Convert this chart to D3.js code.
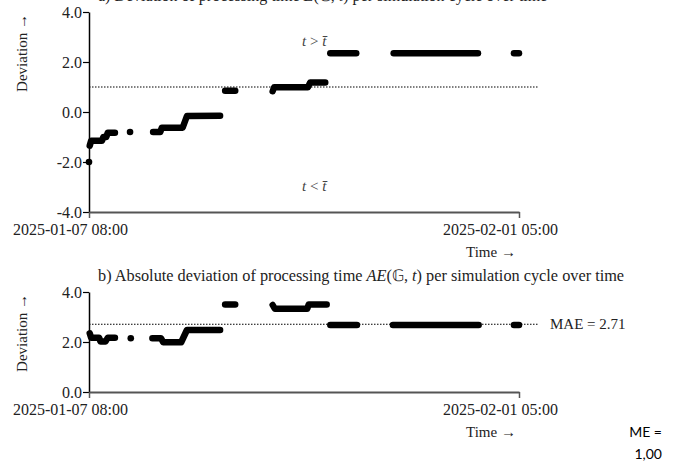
<!DOCTYPE html>
<html>
<head>
<meta charset="utf-8">
<script src="https://cdn.jsdelivr.net/npm/d3@7"></script>
<style>
    body { margin: 0; background: #fff; }
    svg text { font-family: "Liberation Serif", "Times New Roman", serif; }
    .tick text { font-size: 16px; fill: #222; }
    .note { font-size: 14px; font-family: Lato, "Open Sans", sans-serif !important; }
</style>
</head>
<body>
<div id="chart"></div>
<script>
const startTime = new Date(2025, 0, 7, 8, 0);
const endTime = new Date(2025, 1, 1, 5, 0);

// runs of [hours after start, deviation]
const signedRuns = [
    [[0, -2.0]],
    [[1, -1.35], [3, -1.15], [18, -1.15], [20, -1.0], [24, -1.0], [26, -0.83], [36, -0.83]],
    [[57, -0.8]],
    [[89, -0.8], [99, -0.8], [101, -0.63], [130, -0.63], [136, -0.16], [182, -0.15]],
    [[189, 0.85], [203, 0.85]],
    [[255, 0.83], [257, 0.99], [304, 0.99], [307, 1.18], [328, 1.18]],
    [[335, 2.35], [371, 2.35]],
    [[423, 2.35], [540, 2.35]],
    [[590, 2.35], [597, 2.35]]
];

const absRuns = [
    [[1, 2.35], [3, 2.17], [14, 2.17], [16, 2.02], [23, 2.02], [26, 2.17], [36, 2.17]],
    [[58, 2.15]],
    [[88, 2.15], [100, 2.15], [103, 1.99], [128, 1.99], [136, 2.48], [182, 2.48]],
    [[189, 3.5], [203, 3.5]],
    [[255, 3.48], [258, 3.33], [303, 3.33], [305, 3.5], [330, 3.5]],
    [[335, 2.68], [372, 2.68]],
    [[422, 2.68], [541, 2.68]],
    [[590, 2.68], [597, 2.68]]
];

const signedTicks = [-4, -2, 0, 2, 4];
const absTicks = [0, 2, 4];
const meanError = 1.0;
const meanAbsError = 2.71;

const width = 680;
const height = 466;

const svg = d3.select("#chart")
    .append("svg")
    .attr("width", width)
    .attr("height", height);

const x = d3.scaleTime()
    .domain([startTime, endTime])
    .range([89, 519]);

const toDate = (h) => d3.timeHour.offset(startTime, h);

function drawPanel(opts) {
    const y = d3.scaleLinear()
        .domain(opts.domain)
        .range([opts.bottom, opts.top]);

    const g = svg.append("g");

    // reference line (dotted)
    g.append("line")
        .attr("x1", x(startTime))
        .attr("x2", x(endTime) + 20)
        .attr("y1", y(opts.refValue))
        .attr("y2", y(opts.refValue))
        .attr("stroke", "#000")
        .attr("stroke-width", 1.2)
        .attr("stroke-dasharray", "1.5,1.5");

    // y axis
    const yAxis = g.append("g")
        .attr("transform", `translate(${x(startTime)},0)`)
        .call(d3.axisLeft(y).tickValues(opts.ticks)
            .tickFormat(d => d.toFixed(1))
            .tickSize(6).tickSizeOuter(0));
    yAxis.select(".domain").attr("stroke", "#000").attr("stroke-width", 1.5);
    yAxis.selectAll(".tick line").attr("stroke", "#000").attr("stroke-width", 1.2);
    yAxis.selectAll(".tick text").attr("x", -7).attr("font-size", 16);

    // x axis
    const xAxis = g.append("g")
        .attr("transform", `translate(0,${opts.bottom})`)
        .call(d3.axisBottom(x).tickValues([startTime, endTime])
            .tickFormat(d3.timeFormat("%Y-%m-%d %H:%M"))
            .tickSize(6).tickSizeOuter(0));
    xAxis.select(".domain").attr("stroke", "#555").attr("stroke-width", 2);
    xAxis.selectAll(".tick line").attr("stroke", "#555").attr("stroke-width", 1.5);
    xAxis.selectAll(".tick text")
        .attr("dx", -19)
        .attr("y", 12)
        .attr("font-size", 16);

    g.append("text")
        .attr("x", x(endTime) - 28)
        .attr("y", opts.bottom + 45)
        .attr("text-anchor", "middle")
        .attr("font-size", 15)
        .attr("fill", "#222")
        .text("Time →");

    g.append("text")
        .attr("transform", `translate(27,${opts.top + 2}) rotate(-90)`)
        .attr("text-anchor", "end")
        .attr("font-size", 15)
        .attr("fill", "#222")
        .text("Deviation →");

    // markers: dense runs drawn as thick lines, single points as dots
    const line = d3.line()
        .x(d => x(toDate(d[0])))
        .y(d => y(d[1]));

    g.selectAll("path.run")
        .data(opts.runs.filter(r => r.length > 1))
        .enter()
        .append("path")
        .attr("class", "run")
        .attr("d", line)
        .attr("fill", "none")
        .attr("stroke", "#000")
        .attr("stroke-width", 6.5)
        .attr("stroke-linecap", "round")
        .attr("stroke-linejoin", "round");

    g.selectAll("circle.single")
        .data(opts.runs.filter(r => r.length === 1))
        .enter()
        .append("circle")
        .attr("class", "single")
        .attr("cx", d => x(toDate(d[0][0])))
        .attr("cy", d => y(d[0][1]))
        .attr("r", 3.3)
        .attr("fill", "#000");

    return { g: g, y: y };
}

const panelA = drawPanel({
    runs: signedRuns, domain: [-4, 4], top: 12, bottom: 212,
    ticks: signedTicks, refValue: meanError
});

const panelB = drawPanel({
    runs: absRuns, domain: [0, 4], top: 292, bottom: 392,
    ticks: absTicks, refValue: meanAbsError
});

// region notes in the upper panel
const above = panelA.g.append("text")
    .attr("x", 302).attr("y", 46)
    .attr("font-size", 15).attr("fill", "#444");
above.append("tspan").attr("font-style", "italic").text("t");
above.append("tspan").text(" > ");
above.append("tspan").attr("font-style", "italic").text("t\u0304");

const below = panelA.g.append("text")
    .attr("x", 302).attr("y", 191)
    .attr("font-size", 15).attr("fill", "#444");
below.append("tspan").attr("font-style", "italic").text("t");
below.append("tspan").text(" < ");
below.append("tspan").attr("font-style", "italic").text("t\u0304");

// titles (the upper one sits mostly above the frame, as in the source)
const titleA = svg.append("text")
    .attr("x", 98).attr("y", 1)
    .attr("font-size", 16).attr("fill", "#222");
titleA.append("tspan").text("a)  Deviation of processing time ");
titleA.append("tspan").attr("font-style", "italic").text("E");
titleA.append("tspan").text("(𝔾, ");
titleA.append("tspan").attr("font-style", "italic").text("t");
titleA.append("tspan").text(") per simulation cycle over time");

const titleB = svg.append("text")
    .attr("x", 98).attr("y", 281)
    .attr("font-size", 16.3).attr("fill", "#222");
titleB.append("tspan").text("b)  Absolute deviation of processing time ");
titleB.append("tspan").attr("font-style", "italic").text("AE");
titleB.append("tspan").text("(𝔾, ");
titleB.append("tspan").attr("font-style", "italic").text("t");
titleB.append("tspan").text(") per simulation cycle over time");

panelB.g.append("text")
    .attr("x", x(endTime) + 31)
    .attr("y", panelB.y(meanAbsError) + 5)
    .attr("font-size", 15)
    .attr("fill", "#222")
    .text("MAE = " + meanAbsError.toFixed(2));

svg.append("text")
    .attr("class", "note")
    .attr("x", 662).attr("y", 437)
    .attr("text-anchor", "end")
    .attr("fill", "#000")
    .text("ME =");

svg.append("text")
    .attr("class", "note")
    .attr("x", 662).attr("y", 459)
    .attr("text-anchor", "end")
    .attr("fill", "#000")
    .text(meanError.toFixed(2).replace(".", ","));
</script>
</body>
</html>
